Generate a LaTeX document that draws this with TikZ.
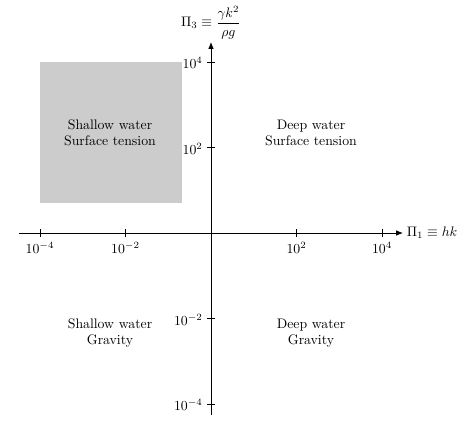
\documentclass[tikz,border=0pt]{standalone}
\usetikzlibrary{arrows.meta}
\begin{document}
\begin{tikzpicture}[x=0.725pt,y=0.725pt,
  axisline/.style={line width=0.55pt,-{Latex[length=5pt,width=4pt]}},
  tick/.style={line width=0.5pt},
  regionlabel/.style={align=center,font=\normalsize},
  ticklabel/.style={inner sep=1.5pt}]
\useasboundingbox (-211,-192) rectangle (262,233);
% shaded region
\fill[black!20] (-171,171) rectangle (-29,30);
% axes
\coordinate (xs) at (-192,0);
\coordinate (xe) at (192,0);
\coordinate (ys) at (0,-182);
\coordinate (ye) at (0,191);
\draw[axisline] (xs) -- (xe) node[right,inner sep=2.5pt] (xl) {$\Pi_1 \equiv hk$};
\draw[axisline] (ys) -- (ye) node[above,inner sep=2pt] (yl) {$\Pi_3 \equiv \displaystyle\frac{\gamma k^2}{\rho g}$};
% x ticks
\foreach \x/\lab [count=\i] in {-171/{10^{-4}},-85.5/{10^{-2}},85.5/{10^{2}},171/{10^{4}}}{
  \draw[tick] (\x,-4) -- (\x,4);
  \node[below,ticklabel] (xt\i) at (\x,-6.5) {$\lab$};
}
% y ticks
\foreach \y/\lab [count=\i] in {-171/{10^{-4}},-85.5/{10^{-2}},85.5/{10^{2}},171/{10^{4}}}{
  \draw[tick] (-4,\y) -- (4,\y);
  \node[left,ticklabel] (yt\i) at (-6,\y-1) {$\lab$};
}
% region labels
\node[regionlabel] (sst) at (-101,100) {Shallow water\\Surface tension};
\node[regionlabel] (dst) at (100,100) {Deep water\\Surface tension};
\node[regionlabel] (sg) at (-101,-100) {Shallow water\\Gravity};
\node[regionlabel] (dg) at (100,-100) {Deep water\\Gravity};
\end{tikzpicture}
\end{document}
